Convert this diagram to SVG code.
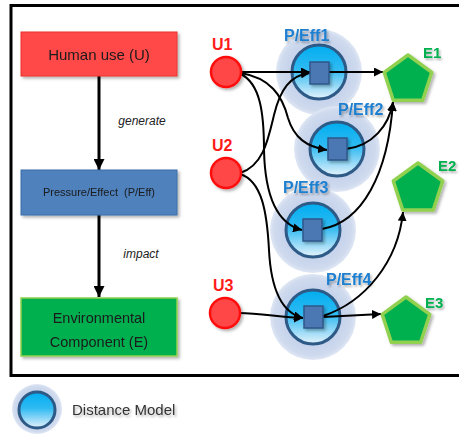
<svg xmlns="http://www.w3.org/2000/svg" width="459" height="435" viewBox="0 0 459 435">
<style>
.lbl{font-family:"Liberation Sans",Arial,sans-serif;}
.box{font-family:"Liberation Sans",Arial,sans-serif;fill:#1a1a1a;text-anchor:middle;}
.it{font-family:"Liberation Sans",Arial,sans-serif;font-style:italic;fill:#222;text-anchor:middle;font-size:12px;}
.u{fill:#ff4646;stroke:#ff1010;stroke-width:2.5;}
.ut{fill:#ff1a1a;font-weight:bold;font-size:16px;}
.pt{fill:#1e7fd0;font-weight:bold;font-size:16px;}
.et{fill:#00b050;font-weight:bold;font-size:15px;}
.halo{fill:url(#haloG);}
.inner{fill:url(#innerG);stroke:#2e5a87;stroke-width:3;}
.sq{fill:#4b77b3;stroke:#2f578a;stroke-width:1.5;}
.pent{fill:#00b04f;stroke:#92d050;stroke-width:3.5;stroke-linejoin:round;}
.c{fill:none;stroke:#000;stroke-width:2;marker-end:url(#ah);}
.ct{fill:none;stroke:#000;stroke-width:3;marker-end:url(#ahb);}
</style>
<defs>
<radialGradient id="haloG" cx="0.5" cy="0.5" r="0.5">
<stop offset="0.6" stop-color="#c3d1ea"/>
<stop offset="0.9" stop-color="#cfdaee"/>
<stop offset="1" stop-color="#dfe7f4"/>
</radialGradient>
<linearGradient id="innerG" x1="0" y1="0" x2="0" y2="1">
<stop offset="0" stop-color="#00adf0"/>
<stop offset="0.45" stop-color="#2fbaf2"/>
<stop offset="1" stop-color="#e6f2fb"/>
</linearGradient>
<filter id="sh" x="-20%" y="-20%" width="150%" height="150%">
<feDropShadow dx="2" dy="2" stdDeviation="1.5" flood-color="#000" flood-opacity="0.3"/>
</filter>
<filter id="tsh" x="-10%" y="-30%" width="130%" height="170%">
<feDropShadow dx="1.5" dy="2" stdDeviation="1.2" flood-color="#000" flood-opacity="0.3"/>
</filter>
<marker id="ah" viewBox="0 0 10 10" refX="10" refY="5" markerWidth="9" markerHeight="9" markerUnits="userSpaceOnUse" orient="auto">
<path d="M0,0 L10,5 L0,10 z" fill="#000"/>
</marker>
<marker id="ahb" viewBox="0 0 10 10" refX="10" refY="5" markerWidth="11" markerHeight="11" markerUnits="userSpaceOnUse" orient="auto">
<path d="M0,0 L10,5 L0,10 z" fill="#000"/>
</marker>
</defs>
<rect x="0" y="0" width="459" height="435" fill="#fff"/>
<rect x="11" y="5.5" width="470" height="370" fill="none" stroke="#000" stroke-width="3"/>

<g id="left-connectors">
<line class="ct" x1="99" y1="76" x2="99" y2="170"/>
<line class="ct" x1="99" y1="215" x2="99" y2="297"/>
<text class="it" x="142" y="125">generate</text>
<text class="it" x="141" y="258">impact</text>
</g>

<g id="human-use" filter="url(#sh)">
<rect x="21" y="32" width="156" height="44" fill="#ff4a4a" stroke="#e8302f" stroke-width="1"/>
<text class="box" x="99" y="60" font-size="15">Human use (U)</text>
</g>
<g id="pressure-effect" filter="url(#sh)">
<rect x="21" y="170" width="156" height="45" fill="#4f81bd" stroke="#3a6ca8" stroke-width="1"/>
<text class="box" x="99" y="196" font-size="11" xml:space="preserve">Pressure/Effect  (P/Eff)</text>
</g>
<g id="environmental" filter="url(#sh)">
<rect x="21" y="298" width="156" height="58" fill="#00b050" stroke="#92d050" stroke-width="1.5"/>
<text class="box" x="99" y="323" font-size="14.5">Environmental</text>
<text class="box" x="99" y="347" font-size="14.5">Component (E)</text>
</g>

<g id="halos">
<circle class="halo" cx="319" cy="72" r="43"/>
<circle class="halo" cx="337" cy="149" r="43"/>
<circle class="halo" cx="313" cy="230" r="43"/>
<circle class="halo" cx="313" cy="317" r="43"/>
</g>
<g id="inner-circles">
<circle class="inner" cx="319" cy="72" r="27"/>
<circle class="inner" cx="337" cy="149" r="27"/>
<circle class="inner" cx="313" cy="230" r="27"/>
<circle class="inner" cx="313" cy="317" r="27"/>
</g>

<g id="connectors">
<path class="c" d="M242,72 L310,72"/>
<path class="c" d="M241,73 C270,78 282,95 288,118 C294,138 307,147 327,150"/>
<path class="c" d="M241,74 C260,84 264,112 264,150 C265,198 278,224 302,230"/>
<path class="c" d="M240,173 C263,166 268,140 274,115 C280,90 290,75 310,73"/>
<path class="c" d="M240,174 C262,181 267,212 269,250 C271,290 282,313 303,318"/>
<path class="c" d="M239,313 C262,313 282,318 303,318"/>
<path class="c" d="M329,72 L383,72"/>
<path class="c" d="M346,149 C372,146 389,126 393,102"/>
<path class="c" d="M322,229 C362,222 388,175 393,102"/>
<path class="c" d="M323,316 C365,302 398,262 403,212"/>
<path class="c" d="M323,317 L381,314"/>
</g>

<g id="u1"><circle class="u" cx="226" cy="72" r="15" filter="url(#sh)"/><text class="lbl ut" x="212" y="50">U1</text></g>
<g id="u2"><circle class="u" cx="226" cy="173" r="15" filter="url(#sh)"/><text class="lbl ut" x="212" y="151">U2</text></g>
<g id="u3"><circle class="u" cx="225" cy="313" r="15" filter="url(#sh)"/><text class="lbl ut" x="213" y="291">U3</text></g>

<g id="peff1"><rect class="sq" x="310" y="62" width="19" height="22" filter="url(#sh)"/><text class="lbl pt" x="284" y="41" filter="url(#tsh)">P/Eff1</text></g>
<g id="peff2"><rect class="sq" x="328" y="138" width="19" height="22" filter="url(#sh)"/><text class="lbl pt" x="338" y="115" filter="url(#tsh)">P/Eff2</text></g>
<g id="peff3"><rect class="sq" x="303" y="219" width="19" height="22" filter="url(#sh)"/><text class="lbl pt" x="283" y="193" filter="url(#tsh)">P/Eff3</text></g>
<g id="peff4"><rect class="sq" x="304" y="306" width="19" height="22" filter="url(#sh)"/><text class="lbl pt" x="326" y="285" filter="url(#tsh)">P/Eff4</text></g>

<g id="e1"><polygon class="pent" filter="url(#sh)" points="408,55 431.8,72.3 422.7,100.2 393.3,100.2 384.2,72.3"/><text class="lbl et" x="423" y="58" filter="url(#tsh)">E1</text></g>
<g id="e2"><polygon class="pent" filter="url(#sh)" points="418,163 442.7,181 433.3,210 402.7,210 393.3,181"/><text class="lbl et" x="438" y="171" filter="url(#tsh)">E2</text></g>
<g id="e3"><polygon class="pent" filter="url(#sh)" points="406,297 429.8,314.3 420.7,342.2 391.3,342.2 382.2,314.3"/><text class="lbl et" x="425" y="308" filter="url(#tsh)">E3</text></g>

<g id="legend">
<circle class="halo" cx="37" cy="409" r="25"/>
<circle class="inner" cx="37" cy="410" r="18"/>
<text class="lbl" x="72" y="415" font-size="15" fill="#333" filter="url(#tsh)">Distance Model</text>
</g>
</svg>
